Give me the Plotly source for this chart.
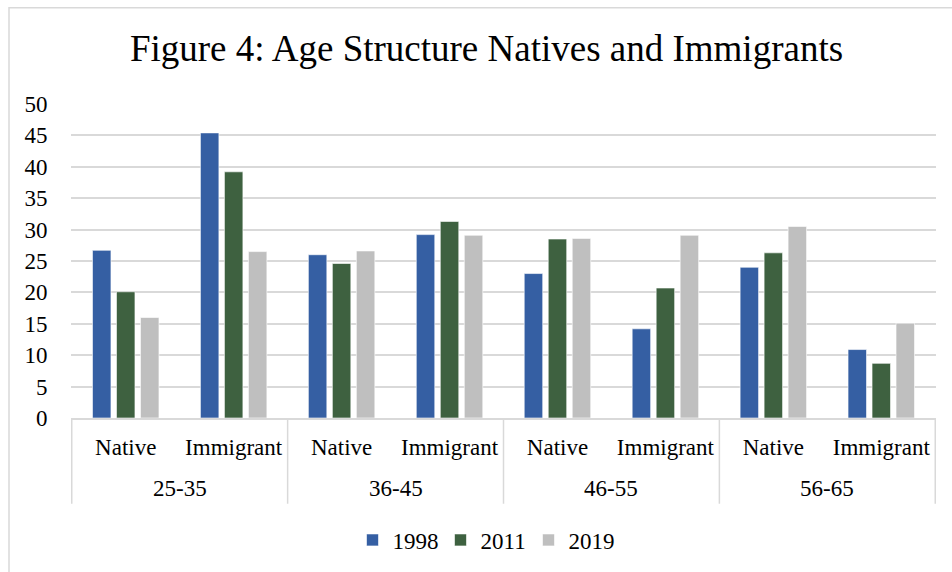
import plotly.graph_objects as go

age_groups = ["25-35", "25-35", "36-45", "36-45", "46-55", "46-55", "56-65", "56-65"]
origin = ["Native", "Immigrant"] * 4
years = ["1998", "2011", "2019"]
v1998 = [26.7, 45.4, 26.0, 29.2, 23.0, 14.2, 24.0, 10.9]
v2011 = [20.1, 39.2, 24.6, 31.3, 28.5, 20.7, 26.3, 8.7]
v2019 = [16.0, 26.5, 26.6, 29.1, 28.6, 29.1, 30.5, 15.1]
colors = ["#355FA3", "#3E6140", "#BFBFBF"]

FONT = "Liberation Serif, Times New Roman, serif"

keys = [f"{g}|{o}" for g, o in zip(age_groups, origin)]
groups = list(dict.fromkeys(age_groups))

fig = go.Figure()
for name, vals, col in zip(years, [v1998, v2011, v2019], colors):
    fig.add_trace(go.Bar(
        x=keys, y=vals, name=name,
        marker=dict(color=col, line=dict(color="rgba(255,255,255,0.6)", width=1)),
    ))

L, R, T, B = 71, 936, 104, 419
W, H = 952, 572
pw, ph = R - L, B - T

def px2x(p):
    return (p - L) / pw

def py2y(p):
    return (B - p) / ph

# chart border
fig.add_shape(type="rect", xref="paper", yref="paper",
              x0=px2x(9), x1=px2x(970), y0=py2y(7.5), y1=py2y(600),
              line=dict(color="#D9D9D9", width=1.5), fillcolor="rgba(0,0,0,0)", layer="below")

# group labels and dividers of the two-level category axis
for g in groups:
    idx = [i for i, a in enumerate(age_groups) if a == g]
    fig.add_annotation(x=sum(idx) / len(idx), xref="x", y=py2y(490), yref="paper",
                       text=g, showarrow=False, yanchor="middle",
                       font=dict(family=FONT, size=23, color="black"))
bounds = [-0.5] + [i + 0.5 for i in range(len(keys) - 1) if age_groups[i] != age_groups[i + 1]] + [len(keys) - 0.5]
for bx in bounds:
    fig.add_shape(type="line", xref="x", yref="paper", x0=bx, x1=bx,
                  y0=0, y1=py2y(505), line=dict(color="#D9D9D9", width=1.5))

fig.update_layout(
    width=W, height=H, autosize=False,
    margin=dict(l=L, r=W - R, t=T, b=H - B, pad=0),
    paper_bgcolor="white", plot_bgcolor="white",
    font=dict(family=FONT, size=23, color="black"),
    title=dict(text="Figure 4: Age Structure Natives and Immigrants",
               font=dict(family=FONT, size=37, color="black"),
               x=486.5 / W, xref="container", xanchor="center",
               y=1 - 48 / H, yref="container", yanchor="middle"),
    barmode="group", bargap=0.333, bargroupgap=0.23,
    legend=dict(orientation="h", x=px2x(484.5), xanchor="center", y=py2y(540), yanchor="middle",
                font=dict(family=FONT, size=23), itemwidth=30, traceorder="normal",
                entrywidth=43, entrywidthmode="pixels"),
    showlegend=True,
)
fig.update_yaxes(range=[0, 50], dtick=5, showgrid=True, gridcolor="#D9D9D9", gridwidth=1.5,
                 zeroline=False, showline=False, ticks="outside", ticklen=18,
                 tickcolor="rgba(0,0,0,0)", tickfont=dict(family=FONT, size=23))
fig.update_xaxes(type="category", showline=True, linecolor="#D9D9D9", linewidth=1.5, showgrid=False,
                 ticks="outside", ticklen=8, tickcolor="rgba(0,0,0,0)",
                 tickmode="array", tickvals=keys, ticktext=origin, tickangle=0,
                 tickfont=dict(family=FONT, size=23))

fig.write_html("out.html")
